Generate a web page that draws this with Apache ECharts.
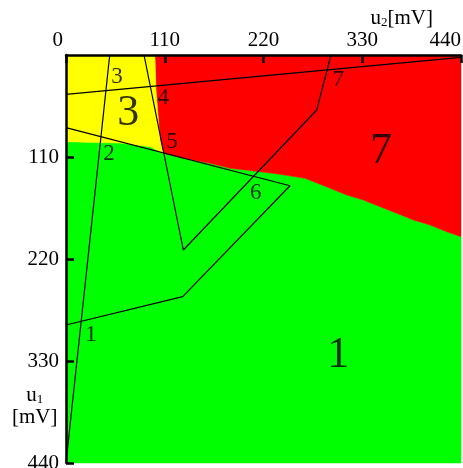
<!DOCTYPE html>
<html>
<head>
<meta charset="utf-8">
<script src="https://cdn.jsdelivr.net/npm/echarts@6/dist/echarts.min.js"></script>
<style>
html,body{margin:0;padding:0;background:#fff;}
#main{width:463px;height:468px;}
</style>
</head>
<body>
<div id="main"></div>
<script>
// ---- data (u2 = x [mV], u1 = y [mV]) ----
const axisMin = 0, axisMax = 440, axisStep = 110;

// region boundaries
const yellowRedBoundary = [[99,0],[100.3,37.7],[104.7,91.7],[108.4,106]];
const yellowGreenBoundary = [[0,93.5],[60,95],[94,99],[108.4,106]];
const redGreenBoundary = [[108.4,106],[130.7,111.4],[160.4,116.8],[182.7,122.2],[216.1,125.8],[238.4,128.7],[266.2,133],[294.1,143.7],[312.7,151],[331.2,156.4],[349.8,163.6],[368.4,170.7],[386.9,177.9],[405.5,183.3],[424.1,190.6],[440,196]];

// trajectories
const line1 = [[0,440],[48.7,0]];
const line2 = [[0,42.4],[440,2.5]];
const line3 = [[0,78.4],[249.5,141],[130,260.6],[0,291.2]];
const line4 = [[86.9,0],[130.7,210.3],[279.3,59.3],[295.2,0]];

// labels
const pointLabelText = ['1','2','3','4','5','6','7'];
const pointLabelPos = [[27.8,301.6],[47.9,106.2],[56.8,23.4],[108.4,46.7],[118.1,93.5],[211.4,148.3],[303.4,27]];
const regionLabelText = ['3','7','1'];
const regionLabelPos = [[69.4,62.9],[350.9,103.5],[303.4,323.5]];

// ---- build polygons from boundaries ----
const yellowPoly = [[0,0]].concat(yellowRedBoundary, yellowGreenBoundary.slice().reverse());
const greenPoly = yellowGreenBoundary.concat(redGreenBoundary.slice(1), [[440,440],[0,440]]);
const redPolygon = [[440,0]].concat(redGreenBoundary.slice().reverse(), yellowRedBoundary.slice().reverse());

const FONT = 'Liberation Serif';

function regionSeries(poly, color) {
  return {
    type: 'custom',
    coordinateSystem: 'cartesian2d',
    silent: true,
    z: 1,
    data: [[0, 0]],
    renderItem: function (params, api) {
      return {
        type: 'polygon',
        shape: { points: poly.map(p => api.coord(p)) },
        style: { fill: color, stroke: color, lineWidth: 0.5 }
      };
    }
  };
}
function lineSeries(pts) {
  return {
    type: 'line', data: pts, symbol: 'none', silent: true, z: 5,
    lineStyle: { color: '#000', width: 1.2 }, animation: false
  };
}
function labelSeries(texts, pos, size) {
  return {
    type: 'scatter', symbolSize: 0, silent: true, z: 10,
    data: pos.map((p, i) => ({ value: p, name: texts[i] })),
    label: { show: true, position: 'inside', formatter: '{b}', color: '#000',
             fontFamily: FONT, fontSize: size }
  };
}

const chart = echarts.init(document.getElementById('main'), null, { renderer: 'canvas' });
chart.setOption({
  animation: false,
  backgroundColor: '#fff',
  grid: { left: 66, top: 55, right: 2, bottom: 5, containLabel: false, outerBoundsMode: 'none' },
  xAxis: {
    type: 'value', position: 'top', min: axisMin, max: axisMax, interval: axisStep, z: 20,
    name: '{a|u}{s|2}{a|[mV]}', nameLocation: 'end', nameGap: 0,
    nameTextStyle: {
      align: 'right', verticalAlign: 'bottom', padding: [0, 28, 26, 0],
      rich: { a: { fontFamily: FONT, fontSize: 21, color: '#000' },
              s: { fontFamily: FONT, fontSize: 13, color: '#000', verticalAlign: 'bottom', padding: [8, 0, 0, 0] } }
    },
    axisLine: { show: true, lineStyle: { color: '#000', width: 2.5 } },
    axisTick: { show: true, inside: true, length: 8, lineStyle: { color: '#000', width: 2.5 } },
    splitLine: { show: false },
    axisLabel: { color: '#000', fontFamily: FONT, fontSize: 21, margin: 4,
                 alignMinLabel: 'right', alignMaxLabel: 'right',
                 formatter: v => v === 0 ? '{z|0}' : String(v),
                 rich: { z: { fontFamily: FONT, fontSize: 21, color: '#000', padding: [0, 3, 0, 0] } } }
  },
  yAxis: {
    type: 'value', inverse: true, min: axisMin, max: axisMax, interval: axisStep, z: 20,
    axisLine: { show: true, lineStyle: { color: '#000', width: 2.5 } },
    axisTick: { show: true, inside: true, length: 8, lineStyle: { color: '#000', width: 2.5 } },
    splitLine: { show: false },
    axisLabel: { color: '#000', fontFamily: FONT, fontSize: 21, margin: 7, showMinLabel: false }
  },
  graphic: [{
    type: 'text', left: 12, top: 385, silent: true,
    style: { text: '{a|u}{s|1}\n{a|[mV]}', align: 'center', fill: '#000',
             rich: { a: { fontFamily: FONT, fontSize: 21, fill: '#000', align: 'center', lineHeight: 22 },
                     s: { fontFamily: FONT, fontSize: 13, fill: '#000', padding: [8, 0, 0, 0] } } }
  }],
  series: [
    regionSeries(greenPoly, '#00ff00'),
    regionSeries(redPolygon, '#ff0000'),
    regionSeries(yellowPoly, '#ffff00'),
    lineSeries(line1), lineSeries(line2), lineSeries(line3), lineSeries(line4),
    labelSeries(pointLabelText, pointLabelPos, 23),
    labelSeries(regionLabelText, regionLabelPos, 44)
  ]
});
</script>
</body>
</html>
